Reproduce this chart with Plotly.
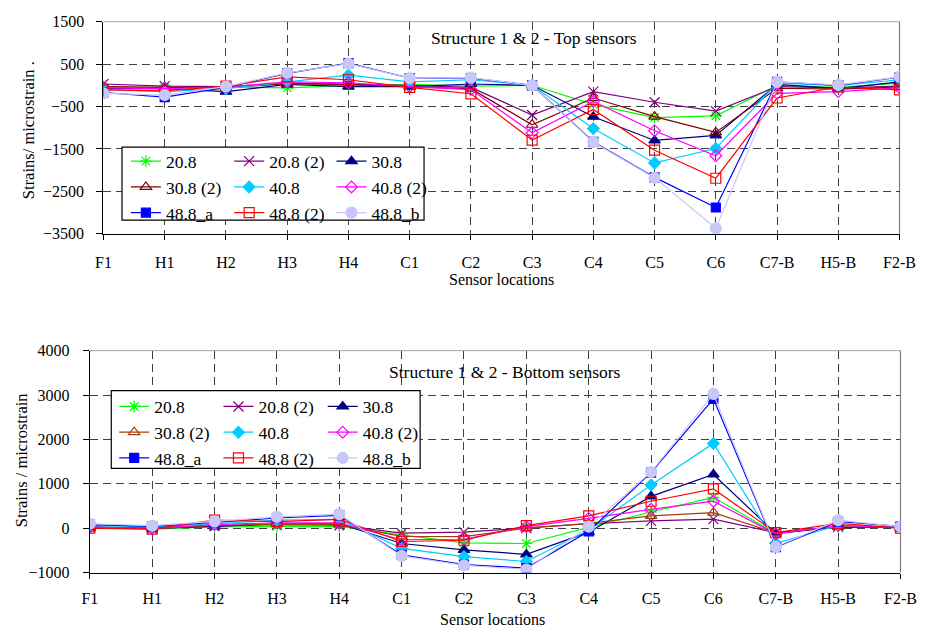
import plotly.graph_objects as go

W, H = 935, 639

categories = ["F1", "H1", "H2", "H3", "H4", "C1", "C2", "C3", "C4", "C5", "C6", "C7-B", "H5-B", "F2-B"]
series_names = ["20.8", "20.8 (2)", "30.8", "30.8 (2)", "40.8", "40.8 (2)", "48.8_a", "48.8 (2)", "48.8_b"]

# Top sensors (microstrain)
top_20_8   = [-50, -60, -40, -60, 0, 20, -20, 0, -450, -760, -720, 0, -50, 50]
top_20_8_2 = [30, -20, -30, 50, 20, 0, -50, -700, -150, -400, -610, -30, -60, -20]
top_30_8   = [-80, -80, -150, 20, -30, -30, 30, 0, -740, -1300, -1180, 20, -80, 80]
top_30_8_2 = [-30, -40, -60, 40, 20, -40, -80, -930, -300, -740, -1110, -70, -90, -40]
top_40_8   = [-100, -150, -80, 80, 240, 80, 130, 0, -1020, -1830, -1490, 50, -10, 130]
top_40_8_2 = [-60, -80, -40, 80, 60, -30, -100, -1120, -380, -1070, -1660, -190, -150, -60]
top_48_8_a = [-170, -280, -50, 280, 520, 170, 170, 0, -1330, -2170, -2880, 80, 0, 190]
top_48_8_2 = [-110, -130, -20, 200, 130, -50, -200, -1290, -570, -1530, -2190, -300, -40, -110]
top_48_8_b = [-190, -230, -30, 290, 510, 170, 180, 0, -1340, -2180, -3370, 80, 10, 200]

# Bottom sensors (microstrain)
bot_20_8   = [10, -20, 30, 40, 40, -150, -330, -345, 20, 365, 695, -120, 40, 20]
bot_20_8_2 = [20, -10, 50, 80, 70, -110, -90, 0, 100, 165, 205, -100, 30, 20]
bot_30_8   = [30, 0, 40, 100, 100, -345, -490, -590, -90, 717, 1210, -120, 30, 10]
bot_30_8_2 = [0, -10, 60, 90, 80, -185, -190, 0, 110, 277, 350, -110, 40, 10]
bot_40_8   = [60, 30, 100, 180, 200, -455, -640, -750, -40, 975, 1910, -340, 60, 30]
bot_40_8_2 = [20, 0, 80, 120, 120, -260, -250, 35, 220, 425, 607, -130, 60, 20]
bot_48_8_a = [80, 40, 130, 230, 290, -600, -820, -900, -70, 1250, 2915, -430, 150, 40]
bot_48_8_2 = [0, -20, 180, 150, 200, -300, -272, 57, 277, 607, 885, -100, 110, 0]
bot_48_8_b = [100, 57, 154, 255, 315, -625, -835, -930, 35, 1265, 3025, -420, 180, 35]

top_series = [top_20_8, top_20_8_2, top_30_8, top_30_8_2, top_40_8, top_40_8_2, top_48_8_a, top_48_8_2, top_48_8_b]
bot_series = [bot_20_8, bot_20_8_2, bot_30_8, bot_30_8_2, bot_40_8, bot_40_8_2, bot_48_8_a, bot_48_8_2, bot_48_8_b]

colors_top = ["#00FF00", "#800080", "#000080", "#800000", "#00CCFF", "#FF00FF", "#0000FF", "#FF0000", "#C8C8F8"]
colors_bot = ["#00FF00", "#800080", "#000080", "#A0400A", "#00CCFF", "#FF00FF", "#0000FF", "#FF0000", "#C8C8F8"]
symbols = ["asterisk-open", "x-thin-open", "triangle-up", "triangle-up-open", "diamond",
           "diamond-open", "square", "square-open", "circle"]
sizes = [10, 10, 10, 10, 9, 9, 9, 10, 11]

FONT = "Liberation Serif"

def px(x):
    return x / W

def py(y):
    return 1 - y / H

fig = go.Figure()

legend_cols_top = ["legend", "legend2", "legend3"]
legend_cols_bot = ["legend4", "legend5", "legend6"]

for i, (name, vals) in enumerate(zip(series_names, top_series)):
    c = colors_top[i]
    fig.add_trace(go.Scatter(
        x=categories, y=vals, name=name, mode="lines+markers",
        xaxis="x", yaxis="y",
        line=dict(color=c, width=1.2),
        marker=dict(symbol=symbols[i], size=sizes[i], color=c,
                    line=dict(color=c, width=1.2)),
        legend=legend_cols_top[i % 3], legendrank=i,
    ))

for i, (name, vals) in enumerate(zip(series_names, bot_series)):
    c = colors_bot[i]
    fig.add_trace(go.Scatter(
        x=categories, y=vals, name=name, mode="lines+markers",
        xaxis="x2", yaxis="y2",
        line=dict(color=c, width=1.2),
        marker=dict(symbol=symbols[i], size=sizes[i], color=c,
                    line=dict(color=c, width=1.2)),
        legend=legend_cols_bot[i % 3], legendrank=i,
    ))

grid = dict(showgrid=True, gridcolor="#404040", griddash="8px,5px", gridwidth=1)

def tickf():
    return dict(family="Times New Roman", size=16, color="black")

fig.update_layout(
    width=W, height=H,
    margin=dict(l=0, r=0, t=0, b=0),
    paper_bgcolor="white", plot_bgcolor="white",
    font=dict(family=FONT, size=16, color="black"),
    xaxis=dict(domain=[px(98), px(915)], anchor="y", type="category",
               categoryorder="array", categoryarray=categories,
               range=[0, 13], showline=True, linecolor="black", linewidth=1.3,
               ticks="outside", ticklen=5, tickcolor="black", tickfont=tickf(),
               ticklabelstandoff=9, zeroline=False, **grid),
    yaxis=dict(domain=[py(232), py(14)], anchor="x", range=[-3500, 1500],
               tick0=1500, dtick=1000, showline=True, linecolor="black", linewidth=1.3,
               ticks="outside", ticklen=6, tickcolor="black", tickfont=tickf(),
               ticklabelstandoff=9, zeroline=False, **grid),
    xaxis2=dict(domain=[px(84), px(916)], anchor="y2", type="category",
                categoryorder="array", categoryarray=categories,
                range=[0, 13], showline=True, linecolor="black", linewidth=1.3,
                ticks="outside", ticklen=5, tickcolor="black", tickfont=tickf(),
                ticklabelstandoff=6, zeroline=False, **grid),
    yaxis2=dict(domain=[py(580), py(352)], anchor="x2", range=[-1000, 4000],
                tick0=-1000, dtick=1000, showline=True, linecolor="black", linewidth=1.3,
                ticks="outside", ticklen=6, tickcolor="black", tickfont=tickf(),
                ticklabelstandoff=10, zeroline=False, **grid),
)

# Legends (three columns per chart)
leg_common = dict(xanchor="left", yanchor="top", bgcolor="rgba(0,0,0,0)",
                  borderwidth=0, font=dict(family=FONT, size=17.5, color="black"),
                  tracegroupgap=0, itemclick=False)
top_leg_x = [121, 227, 332]
bot_leg_x = [109, 216, 323]
for k, lx in enumerate(top_leg_x):
    key = legend_cols_top[k]
    fig.update_layout({key: dict(x=px(lx), y=py(139), **leg_common)})
for k, lx in enumerate(bot_leg_x):
    key = legend_cols_bot[k]
    fig.update_layout({key: dict(x=px(lx), y=py(391), **leg_common)})

shapes = [
    dict(type="line", xref="paper", yref="paper", x0=px(98), x1=px(915), y0=py(14), y1=py(14),
         line=dict(color="#A8A8A8", width=1), layer="below"),
    dict(type="line", xref="paper", yref="paper", x0=px(915), x1=px(915), y0=py(14), y1=py(232),
         line=dict(color="#808080", width=1.2), layer="below"),
    dict(type="line", xref="paper", yref="paper", x0=px(84), x1=px(916), y0=py(352), y1=py(352),
         line=dict(color="#A8A8A8", width=1), layer="below"),
    dict(type="line", xref="paper", yref="paper", x0=px(916), x1=px(916), y0=py(352), y1=py(580),
         line=dict(color="#808080", width=1.2), layer="below"),
    dict(type="rect", xref="paper", yref="paper", x0=px(117), x1=px(427), y0=py(218), y1=py(143),
         line=dict(color="black", width=1.2), fillcolor="white", layer="above"),
    dict(type="rect", xref="paper", yref="paper", x0=px(106), x1=px(423), y0=py(473), y1=py(393),
         line=dict(color="black", width=1.2), fillcolor="white", layer="above"),
]
fig.update_layout(shapes=shapes)

ann = [
    dict(text="Structure 1 &amp; 2 - Top sensors", x=px(540), y=py(31), font=dict(size=17.5)),
    dict(text="Structure 1 &amp; 2 - Bottom sensors", x=px(510), y=py(374), font=dict(size=17.5)),
    dict(text="Sensor locations", x=px(506), y=py(279), font=dict(size=16)),
    dict(text="Sensor locations", x=px(497), y=py(628), font=dict(size=16)),
    dict(text="Strains/ microstrain .", x=px(21), y=py(125), textangle=-90, font=dict(size=16.5)),
    dict(text="Strains / microstrain", x=px(14), y=py(465), textangle=-90, font=dict(size=16.5)),
]
for a in ann:
    a.update(xref="paper", yref="paper", showarrow=False, xanchor="center", yanchor="middle")
    a["font"] = dict(family=FONT, color="black", **a["font"])
fig.update_layout(annotations=ann)

fig.write_html("out.html")
